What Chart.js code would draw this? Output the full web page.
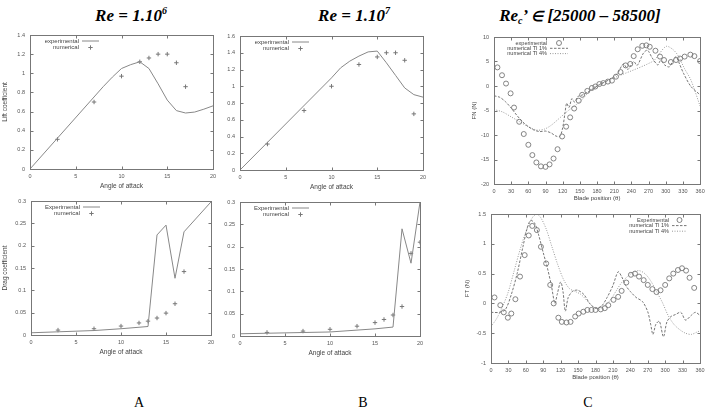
<!DOCTYPE html>
<html>
<head>
<meta charset="utf-8">
<script src="https://cdn.jsdelivr.net/npm/chart.js@4"></script>
<style>
  body { margin: 0; background: #fff; width: 705px; height: 408px; overflow: hidden; position: relative; }
  canvas { position: absolute; }
  .ttl { position: absolute; font: italic bold 17px "Liberation Serif", serif; text-align: center; white-space: nowrap; color: #000; line-height: 20px; }
  .ttl sup { font-size: 10px; vertical-align: 7px; line-height: 0; }
  .ttl sub { font-size: 10px; vertical-align: -3px; line-height: 0; }
  .lab { position: absolute; font: 14px "Liberation Serif", serif; text-align: center; width: 40px; line-height: 16px; }
</style>
</head>
<body>
<div class="ttl" style="left:31px;top:6px;width:200px">Re = 1.10<sup>6</sup></div>
<div class="ttl" style="left:254px;top:6px;width:200px">Re = 1.10<sup>7</sup></div>
<div class="ttl" style="left:460px;top:6px;width:240px">Re<sub>c</sub>’ <span style="font-size:14px">∈</span> [25000 – 58500]</div>
<div class="lab" style="left:119px;top:395px">A</div>
<div class="lab" style="left:343px;top:395px">B</div>
<div class="lab" style="left:568px;top:395px">C</div>
<script>
// Re = 1e6, lift
const liftExpAngle6 = [0, 8, 9, 10, 11, 12, 13, 14, 15, 16, 17, 18, 19, 20];
const liftExp6 = [0, 0.86, 0.96, 1.05, 1.09, 1.12, 1.05, 0.89, 0.72, 0.61, 0.585, 0.595, 0.625, 0.66];
const liftNumAngle6 = [3, 7, 10, 12, 13, 14, 15, 16, 17];
const liftNum6 = [0.31, 0.70, 0.97, 1.12, 1.16, 1.20, 1.20, 1.11, 0.86];
// Re = 1e6, drag
const dragExpAngle6 = [0, 7, 10, 13, 14, 15, 16, 17, 20];
const dragExp6 = [0.005, 0.01, 0.014, 0.019, 0.224, 0.246, 0.127, 0.231, 0.298];
const dragNumAngle6 = [3, 7, 10, 12, 13, 14, 15, 16, 17];
const dragNum6 = [0.011, 0.014, 0.02, 0.027, 0.031, 0.038, 0.049, 0.07, 0.142];
// Re = 1e7, lift
const liftExpAngle7 = [0, 10, 11, 12, 13, 14, 15, 16, 17, 18, 19, 20];
const liftExp7 = [0, 1.10, 1.22, 1.30, 1.36, 1.41, 1.42, 1.28, 1.13, 0.98, 0.90, 0.87];
const liftNumAngle7 = [3, 7, 10, 13, 15, 16, 17, 18, 19];
const liftNum7 = [0.31, 0.71, 1.0, 1.26, 1.35, 1.40, 1.40, 1.31, 0.67];
// Re = 1e7, drag
const dragExpAngle7 = [0, 10, 15, 17, 18, 19, 20];
const dragExp7 = [0.005, 0.009, 0.016, 0.02, 0.24, 0.163, 0.3];
const dragNumAngle7 = [3, 7, 10, 13, 15, 16, 17, 18, 19, 20];
const dragNum7 = [0.008, 0.011, 0.015, 0.022, 0.03, 0.037, 0.047, 0.066, 0.185, 0.21];
// normal force FN vs blade position
const fnExpPos = [6, 14, 21, 29, 35, 44, 52, 60, 67, 74, 82, 90, 97, 104, 111, 119, 126, 133, 140, 148,
  154, 163, 171, 177, 184, 191, 199, 206, 213, 221, 230, 238, 244, 251, 259, 266, 272, 282, 290, 297,
  309, 318, 325, 333, 343, 350, 360];
const fnExp = [3.8, 2.2, 0.5, -1.5, -4.4, -7.3, -9.8, -12, -14.1, -15.6, -16.4, -16.5, -16, -14.8, -12.9, -10.3, -8.3, -6.4, -4.6, -3,
  -1.8, -1, -0.4, -0.1, 0.4, 0.6, 0.9, 1.1, 1.9, 2.85, 4.2, 4.5, 6.1, 7.5, 8.2, 8.3, 8.0, 7.2, 6.0, 5.3,
  4.9, 5.3, 5.6, 6.0, 6.4, 6.1, 5.1];
const fnTi1Pos = [0, 10, 20, 30, 40, 50, 60, 70, 80, 90, 100, 108, 115, 120, 124, 127, 131, 136, 141, 146,
  155, 170, 185, 200, 210, 216, 226, 234, 244, 250, 261, 268, 276, 286, 291, 298, 306, 312, 318, 324, 331, 344, 360];
const fnTi1 = [-2.0, -2.3, -3.2, -4.5, -6.0, -7.3, -8.3, -9.0, -9.3, -9.2, -9.6, -10.2, -10.3, -8.5, -5.5, -3.5, -4.4, -2.6, -3.3, -2.2,
  -1.8, -0.8, 0.3, 1.2, 2.0, 2.6, 4.5, 3.4, 5.0, 4.2, 6.7, 7.3, 5.8, 4.3, 5.2, 4.3, 3.9, 5.0, 6.0, 4.5, 2.6, -0.1, -1.8];
const fnTi4Pos = [0, 15, 30, 45, 60, 75, 88, 100, 115, 130, 150, 177, 277, 290, 301, 312, 321, 333, 344, 360];
const fnTi4 = [-4.8, -5.3, -6.3, -7.3, -8.3, -9.0, -8.8, -8.0, -6.5, -5.0, -3.2, -0.1, 5.0, 6.8, 8.1, 7.5, 6.3, 3.5, 1.2, -4.1];
// tangential force FT vs blade position
const ftExpPos = [6, 16, 22, 29, 35, 42, 50, 58, 65, 71, 79, 86, 95, 102, 108, 116, 122, 130, 137, 145,
  151, 159, 166, 173, 180, 189, 196, 202, 211, 219, 225, 233, 241, 248, 255, 263, 270, 278, 285, 292,
  300, 307, 314, 322, 329, 336, 342, 350];
const ftExp = [0.1, -0.03, -0.15, -0.24, -0.17, 0.07, 0.45, 0.81, 1.14, 1.30, 1.23, 0.95, 0.67, 0.31, 0.0, -0.24, -0.31, -0.32, -0.31, -0.22,
  -0.17, -0.14, -0.11, -0.11, -0.11, -0.1, -0.08, -0.03, 0.06, 0.11, 0.21, 0.35, 0.48, 0.50, 0.45, 0.39, 0.31, 0.24, 0.19, 0.22,
  0.31, 0.42, 0.50, 0.56, 0.59, 0.55, 0.43, 0.26];
const ftTi1Pos = [0, 15, 25, 35, 45, 55, 62, 68, 75, 82, 90, 97, 104, 110, 114, 120, 124, 128, 133, 140,
  145, 150, 160, 170, 180, 190, 200, 210, 219, 225, 232, 240, 250, 261, 270, 275, 279, 284, 290, 297,
  303, 310, 317, 327, 335, 345, 352, 360];
const ftTi1 = [-0.15, -0.15, -0.1, 0.15, 0.5, 0.95, 1.25, 1.39, 1.35, 1.15, 0.85, 0.6, 0.3, 0.0, 0.15, 0.36, 0.2, -0.13, 0.1, 0.2,
  0.22, 0.22, 0.15, 0.0, -0.08, -0.05, 0.1, 0.3, 0.53, 0.45, 0.3, 0.2, 0.1, 0.03, -0.14, -0.35, -0.52, -0.35, -0.3, -0.56,
  -0.31, -0.22, -0.19, -0.15, -0.28, -0.2, -0.15, -0.2];
const ftTi4Pos = [0, 10, 20, 30, 40, 50, 60, 70, 78, 85, 95, 105, 115, 125, 135, 145, 155, 165, 175, 185,
  195, 205, 215, 225, 235, 245, 255, 265, 275, 285, 295, 305, 315, 325, 335, 345, 355, 360];
const ftTi4 = [-0.39, -0.25, -0.05, 0.2, 0.55, 0.9, 1.2, 1.42, 1.5, 1.45, 1.25, 0.95, 0.65, 0.4, 0.25, 0.2, 0.15, 0.05, -0.05, -0.1,
  -0.05, 0.05, 0.2, 0.35, 0.45, 0.52, 0.55, 0.5, 0.38, 0.2, 0.02, -0.2, -0.35, -0.44, -0.5, -0.52, -0.48, -0.46];

const FONT = '"Liberation Sans", Arial, sans-serif';
const pts = (xs, ys) => xs.map((x, i) => ({ x, y: ys[i] }));
const tickFmt = v => String(+v.toFixed(3));

function drawMark(ctx, style, x, y, r) {
  ctx.beginPath();
  if (style === 'cross') {
    ctx.moveTo(x - r, y); ctx.lineTo(x + r, y);
    ctx.moveTo(x, y - r); ctx.lineTo(x, y + r);
  } else {
    ctx.arc(x, y, r, 0, Math.PI * 2);
  }
  ctx.stroke();
}

// gnuplot-like frame: border, inward ticks on all sides, and the key
const gnuFrame = {
  id: 'gnuFrame',
  afterDatasetsDraw(chart, args, opts) {
    const { ctx, chartArea: a, scales: { x, y } } = chart;
    ctx.save();
    ctx.strokeStyle = '#777';
    ctx.lineWidth = 1;
    ctx.setLineDash([]);
    const L = Math.round(a.left) + 0.5, R = Math.round(a.right) + 0.5;
    const T = Math.round(a.top) + 0.5, B = Math.round(a.bottom) + 0.5;
    ctx.strokeRect(L, T, R - L, B - T);
    ctx.beginPath();
    x.ticks.forEach(t => {
      const px = Math.round(x.getPixelForValue(t.value)) + 0.5;
      ctx.moveTo(px, B); ctx.lineTo(px, B - 3);
      ctx.moveTo(px, T); ctx.lineTo(px, T + 3);
    });
    y.ticks.forEach(t => {
      const py = Math.round(y.getPixelForValue(t.value)) + 0.5;
      ctx.moveTo(L, py); ctx.lineTo(L + 3, py);
      ctx.moveTo(R, py); ctx.lineTo(R - 3, py);
    });
    ctx.stroke();

    // key
    ctx.font = opts.font + 'px ' + FONT;
    ctx.textAlign = 'right';
    ctx.textBaseline = 'middle';
    opts.items.forEach((it, i) => {
      const ds = chart.data.datasets[it.ds];
      const tx = a.left + opts.left, ty = a.top + opts.top + i * opts.row;
      ctx.fillStyle = '#444';
      ctx.fillText(it.text, tx, ty);
      ctx.strokeStyle = ds.borderColor;
      ctx.lineWidth = ds.borderWidth || 1;
      if (ds.showLine) {
        ctx.setLineDash(ds.borderDash || []);
        ctx.beginPath();
        ctx.moveTo(tx + opts.gap, ty); ctx.lineTo(tx + opts.gap + opts.len, ty);
        ctx.stroke();
        ctx.setLineDash([]);
      } else {
        drawMark(ctx, ds.pointStyle, tx + opts.gap + opts.len / 2, ty, ds.pointRadius);
      }
    });
    ctx.restore();
  }
};

function plot(box, xr, yr, xTitle, yTitle, datasets, key) {
  const lw = box.lw, bh = box.bh, pt = 6, pr = box.pr;
  const w = box.r - box.l + lw + pr, h = box.b - box.t + pt + bh;
  const c = document.createElement('canvas');
  c.width = w; c.height = h;
  c.style.left = (box.l - lw) + 'px';
  c.style.top = (box.t - pt) + 'px';
  c.style.width = w + 'px';
  c.style.height = h + 'px';
  document.body.appendChild(c);
  const tickFont = { family: FONT, size: 5.5 };
  const titleFont = { family: FONT, size: box.tf };
  new Chart(c, {
    type: 'scatter',
    data: { datasets },
    options: {
      responsive: false,
      animation: false,
      devicePixelRatio: 1,
      layout: { padding: { top: pt, right: pr, left: 0, bottom: 0 } },
      plugins: { legend: { display: false }, tooltip: { enabled: false }, gnuFrame: key },
      scales: {
        x: {
          type: 'linear', min: xr[0], max: xr[1],
          grid: { display: false, drawTicks: false },
          border: { display: false },
          ticks: { stepSize: xr[2], autoSkip: false, maxRotation: 0, padding: 4, color: '#555', font: tickFont, callback: tickFmt },
          title: { display: true, text: xTitle, color: '#444', font: titleFont, padding: { top: 0, bottom: 1 } },
          afterFit: s => { s.height = bh; s.paddingLeft = 0; s.paddingRight = 0; }
        },
        y: {
          type: 'linear', min: yr[0], max: yr[1],
          grid: { display: false, drawTicks: false },
          border: { display: false },
          ticks: { stepSize: yr[2], autoSkip: false, padding: 5, color: '#555', font: tickFont, callback: tickFmt },
          title: { display: !!yTitle, text: yTitle, color: '#444', font: titleFont, padding: { top: 1, bottom: 0 } },
          afterFit: s => { s.width = lw; s.paddingTop = 0; s.paddingBottom = 0; }
        }
      }
    },
    plugins: [gnuFrame]
  });
}

const expLine = (xs, ys) => ({ data: pts(xs, ys), showLine: true, pointRadius: 0, borderColor: '#888', borderWidth: 1, tension: 0 });
const crosses = (xs, ys) => ({ data: pts(xs, ys), showLine: false, pointStyle: 'cross', pointRadius: 2.2, borderColor: '#777', borderWidth: 1 });
const circles = (xs, ys) => ({ data: pts(xs, ys), showLine: false, pointStyle: 'circle', pointRadius: 2.5, borderColor: '#777', backgroundColor: 'rgba(0,0,0,0)', borderWidth: 0.9 });
const dashLine = (xs, ys) => ({ data: pts(xs, ys), showLine: true, pointRadius: 0, borderColor: '#666', borderWidth: 0.9, borderDash: [2.5, 1.5], tension: 0.3 });
const dotLine = (xs, ys) => ({ data: pts(xs, ys), showLine: true, pointRadius: 0, borderColor: '#999', borderWidth: 1, borderDash: [1, 1.5], tension: 0.3 });

const keyAoA = (first) => ({ items: [{ text: first, ds: 0 }, { text: 'numerical', ds: 1 }], left: 49, top: 6, row: 6.5, gap: 3, len: 17, font: 6 });

plot({ l: 30, t: 35, r: 213, b: 169, lw: 30, bh: 22, pr: 8, tf: 6.5 }, [0, 20, 5], [0, 1.4, 0.2],
  'Angle of attack', 'Lift coefficient',
  [expLine(liftExpAngle6, liftExp6), crosses(liftNumAngle6, liftNum6)], keyAoA('experimental'));

plot({ l: 31, t: 201, r: 211, b: 335, lw: 31, bh: 22, pr: 8, tf: 6.5 }, [0, 20, 5], [0, 0.3, 0.05],
  'Angle of attack', 'Drag coefficient',
  [expLine(dragExpAngle6, dragExp6), crosses(dragNumAngle6, dragNum6)], keyAoA('Experimental'));

plot({ l: 240, t: 36, r: 423, b: 170, lw: 30, bh: 22, pr: 8, tf: 6.5 }, [0, 20, 5], [0, 1.6, 0.2],
  'Angle of attack', '',
  [expLine(liftExpAngle7, liftExp7), crosses(liftNumAngle7, liftNum7)], keyAoA('experimental'));

plot({ l: 240, t: 202, r: 420, b: 336, lw: 30, bh: 22, pr: 8, tf: 6.5 }, [0, 20, 5], [0, 0.3, 0.05],
  'Angle of attack', '',
  [expLine(dragExpAngle7, dragExp7), crosses(dragNumAngle7, dragNum7)], keyAoA('Experimental'));

plot({ l: 494, t: 37, r: 701, b: 184, lw: 24, bh: 19, pr: 4, tf: 6 }, [0, 360, 30], [-20, 10, 5],
  'Blade position (θ)', 'FN (N)',
  [circles(fnExpPos, fnExp), dashLine(fnTi1Pos, fnTi1), dotLine(fnTi4Pos, fnTi4)],
  { items: [{ text: 'experimental', ds: 0 }, { text: 'numerical TI 1%', ds: 1 }, { text: 'numerical TI 4%', ds: 2 }],
    left: 53, top: 6, row: 5.3, gap: 3, len: 18, font: 5.5 });

plot({ l: 491, t: 214, r: 700, b: 363, lw: 28, bh: 19, pr: 5, tf: 6 }, [0, 360, 30], [-1, 1.5, 0.5],
  'Blade position (θ)', 'FT (N)',
  [circles(ftExpPos, ftExp), dashLine(ftTi1Pos, ftTi1), dotLine(ftTi4Pos, ftTi4)],
  { items: [{ text: 'Experimental', ds: 0 }, { text: 'numerical TI 1%', ds: 1 }, { text: 'numerical TI 4%', ds: 2 }],
    left: 178, top: 6, row: 5.6, gap: 3, len: 15, font: 5.5 });
</script>
</body>
</html>
